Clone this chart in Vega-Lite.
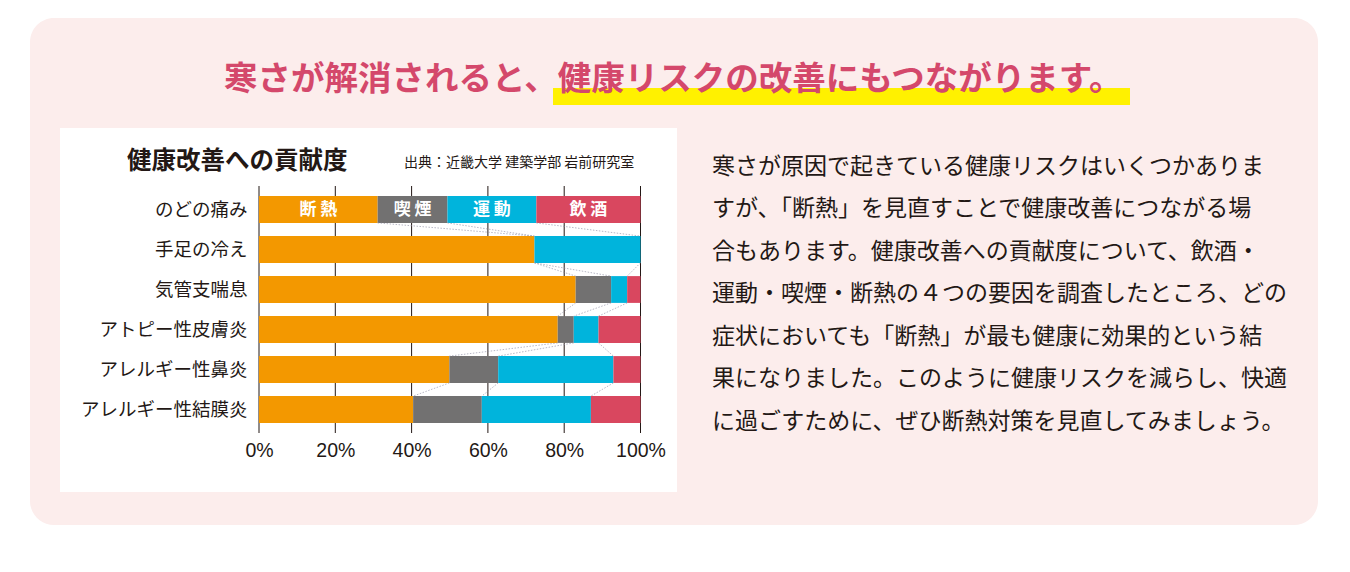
{
  "$schema": "https://vega.github.io/schema/vega-lite/v6.json",
  "width": 1350,
  "height": 572,
  "autosize": {"type": "none"},
  "padding": 0,
  "background": "#ffffff",
  "config": {"view": {"stroke": null}, "font": "Noto Sans CJK JP"},
  "datasets": {
    "bars": [
      {"symptom": "のどの痛み", "factor": "断熱", "k": 1, "value": 31.1},
      {"symptom": "のどの痛み", "factor": "喫煙", "k": 2, "value": 18.3},
      {"symptom": "のどの痛み", "factor": "運動", "k": 3, "value": 23.3},
      {"symptom": "のどの痛み", "factor": "飲酒", "k": 4, "value": 27.3},
      {"symptom": "手足の冷え", "factor": "断熱", "k": 1, "value": 72.2},
      {"symptom": "手足の冷え", "factor": "喫煙", "k": 2, "value": 0},
      {"symptom": "手足の冷え", "factor": "運動", "k": 3, "value": 27.8},
      {"symptom": "手足の冷え", "factor": "飲酒", "k": 4, "value": 0},
      {"symptom": "気管支喘息", "factor": "断熱", "k": 1, "value": 83.0},
      {"symptom": "気管支喘息", "factor": "喫煙", "k": 2, "value": 9.3},
      {"symptom": "気管支喘息", "factor": "運動", "k": 3, "value": 4.2},
      {"symptom": "気管支喘息", "factor": "飲酒", "k": 4, "value": 3.5},
      {"symptom": "アトピー性皮膚炎", "factor": "断熱", "k": 1, "value": 78.3},
      {"symptom": "アトピー性皮膚炎", "factor": "喫煙", "k": 2, "value": 4.2},
      {"symptom": "アトピー性皮膚炎", "factor": "運動", "k": 3, "value": 6.5},
      {"symptom": "アトピー性皮膚炎", "factor": "飲酒", "k": 4, "value": 11.0},
      {"symptom": "アレルギー性鼻炎", "factor": "断熱", "k": 1, "value": 49.9},
      {"symptom": "アレルギー性鼻炎", "factor": "喫煙", "k": 2, "value": 12.8},
      {"symptom": "アレルギー性鼻炎", "factor": "運動", "k": 3, "value": 30.2},
      {"symptom": "アレルギー性鼻炎", "factor": "飲酒", "k": 4, "value": 7.1},
      {"symptom": "アレルギー性結膜炎", "factor": "断熱", "k": 1, "value": 40.4},
      {"symptom": "アレルギー性結膜炎", "factor": "喫煙", "k": 2, "value": 18.0},
      {"symptom": "アレルギー性結膜炎", "factor": "運動", "k": 3, "value": 28.6},
      {"symptom": "アレルギー性結膜炎", "factor": "飲酒", "k": 4, "value": 13.0}
    ],
    "ticks": [{"t": 0}, {"t": 20}, {"t": 40}, {"t": 60}, {"t": 80}, {"t": 100}]
  },
  "layer": [
    {
      "data": {"values": [{}]},
      "mark": {"type": "rect", "fill": "#fcedec", "cornerRadius": 24},
      "encoding": {"x": {"value": 30}, "x2": {"value": 1318}, "y": {"value": 18}, "y2": {"value": 525}}
    },
    {
      "data": {"values": [{}]},
      "mark": {"type": "rect", "fill": "#ffffff"},
      "encoding": {"x": {"value": 60}, "x2": {"value": 677}, "y": {"value": 128}, "y2": {"value": 492}}
    },
    {
      "data": {"values": [{}]},
      "mark": {"type": "rect", "fill": "#fff100"},
      "encoding": {"x": {"value": 553}, "x2": {"value": 1130}, "y": {"value": 88}, "y2": {"value": 105}}
    },
    {
      "data": {"values": [{}]},
      "mark": {"type": "text", "text": "寒さが解消されると、健康リスクの改善にもつながります。", "fontSize": 33.5, "fontWeight": "bold", "fill": "#d4486b", "align": "left", "baseline": "middle"},
      "encoding": {"x": {"value": 224}, "y": {"value": 79.5}}
    },
    {
      "data": {"values": [{}]},
      "mark": {"type": "text", "text": "健康改善への貢献度", "fontSize": 24.5, "fontWeight": "bold", "fill": "#231815", "align": "left", "baseline": "middle"},
      "encoding": {"x": {"value": 127}, "y": {"value": 162}}
    },
    {
      "data": {"values": [{}]},
      "mark": {"type": "text", "text": "出典：近畿大学 建築学部 岩前研究室", "fontSize": 14, "fill": "#231815", "align": "left", "baseline": "middle"},
      "encoding": {"x": {"value": 404}, "y": {"value": 163}}
    },
    {
      "data": {"values": [{}]},
      "mark": {
        "type": "text",
        "text": [
          "寒さが原因で起きている健康リスクはいくつかありま",
          "すが、「断熱」を見直すことで健康改善につながる場",
          "合もあります。健康改善への貢献度について、飲酒・",
          "運動・喫煙・断熱の４つの要因を調査したところ、どの",
          "症状においても「断熱」が最も健康に効果的という結",
          "果になりました。このように健康リスクを減らし、快適",
          "に過ごすために、ぜひ断熱対策を見直してみましょう。"
        ],
        "fontSize": 23,
        "lineHeight": 42.5,
        "fill": "#231815",
        "align": "left",
        "baseline": "middle"
      },
      "encoding": {"x": {"value": 712}, "y": {"value": 166.5}}
    },
    {
      "data": {"name": "ticks"},
      "mark": {"type": "rule", "stroke": "#231815", "strokeWidth": 1},
      "encoding": {
        "x": {"field": "t", "type": "quantitative", "title": null},
        "y": {"value": 186},
        "y2": {"value": 433}
      }
    },
    {
      "data": {"name": "bars"},
      "mark": {"type": "bar"},
      "encoding": {
        "y": {
          "field": "symptom", "type": "nominal",
          "sort": ["のどの痛み", "手足の冷え", "気管支喘息", "アトピー性皮膚炎", "アレルギー性鼻炎", "アレルギー性結膜炎"],
          "scale": {"range": [186.5, 432.5], "paddingInner": 0.33, "paddingOuter": 0.24},
          "axis": {"orient": "left", "offset": -259, "zindex": 2, "domain": false, "ticks": false, "grid": false, "labelFontSize": 18.5, "labelFontWeight": "normal", "labelColor": "#231815", "labelPadding": 12, "title": null}
        },
        "x": {
          "field": "value", "type": "quantitative", "stack": "zero",
          "scale": {"domain": [0, 100], "range": [259, 640.5]},
          "axis": {"orient": "bottom", "offset": -139, "zindex": 2, "values": [0, 20, 40, 60, 80, 100], "labelExpr": "datum.value + '%'", "labelFlush": false, "grid": false, "domain": false, "ticks": false, "labelFont": "Liberation Sans", "labelFontSize": 19.5, "labelColor": "#231815", "labelPadding": 8, "title": null}
        },
        "color": {"field": "factor", "type": "nominal", "scale": {"domain": ["断熱", "喫煙", "運動", "飲酒"], "range": ["#f39800", "#727171", "#00b4dc", "#d9475f"]}, "legend": null},
        "order": {"field": "k", "type": "quantitative"}
      }
    },
    {
      "data": {"name": "bars"},
      "transform": [
        {"calculate": "indexof(['のどの痛み', '手足の冷え', '気管支喘息', 'アトピー性皮膚炎', 'アレルギー性鼻炎', 'アレルギー性結膜炎'], datum.symptom)", "as": "row"},
        {"stack": "value", "groupby": ["symptom"], "sort": [{"field": "k"}], "as": ["v0", "v1"]},
        {"window": [{"op": "lead", "field": "v1", "as": "nv1"}, {"op": "lead", "field": "symptom", "as": "nsym"}], "groupby": ["factor"], "sort": [{"field": "row"}]},
        {"filter": "datum.nsym != null && datum.k < 4"}
      ],
      "mark": {"type": "rule", "stroke": "#8f90a6", "strokeWidth": 0.8, "strokeDash": [1.5, 1.5], "opacity": 0.8},
      "encoding": {
        "y": {"field": "symptom", "type": "nominal", "bandPosition": 1, "title": null, "sort": ["のどの痛み", "手足の冷え", "気管支喘息", "アトピー性皮膚炎", "アレルギー性鼻炎", "アレルギー性結膜炎"]},
        "y2": {"field": "nsym", "bandPosition": 0},
        "x": {"field": "v1", "type": "quantitative", "title": null},
        "x2": {"field": "nv1"}
      }
    },
    {
      "data": {"name": "bars"},
      "transform": [
        {"filter": "datum.symptom === 'のどの痛み'"},
        {"stack": "value", "groupby": ["symptom"], "sort": [{"field": "k"}], "as": ["v0", "v1"]},
        {"calculate": "(datum.v0 + datum.v1) / 2", "as": "mid"},
        {"calculate": "datum.factor[0] + ' ' + datum.factor[1]", "as": "lab"}
      ],
      "mark": {"type": "text", "fill": "#ffffff", "fontWeight": "bold", "fontSize": 17, "baseline": "middle", "align": "center"},
      "encoding": {
        "y": {"field": "symptom", "type": "nominal", "title": null, "sort": ["のどの痛み", "手足の冷え", "気管支喘息", "アトピー性皮膚炎", "アレルギー性鼻炎", "アレルギー性結膜炎"]},
        "x": {"field": "mid", "type": "quantitative", "title": null},
        "text": {"field": "lab"}
      }
    }
  ]
}
